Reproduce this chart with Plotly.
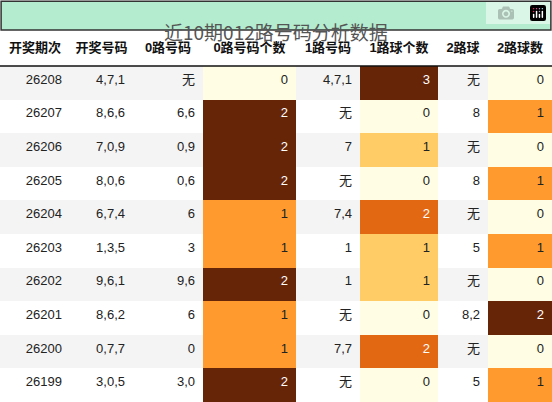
import plotly.graph_objects as go

headers = ["开奖期次","开奖号码","0路号码","0路号码个数","1路号码","1路球个数","2路球","2路球数"]
periods = ["26208","26207","26206","26205","26204","26203","26202","26201","26200","26199"]
draws = ["4,7,1","8,6,6","7,0,9","8,0,6","6,7,4","1,3,5","9,6,1","8,6,2","0,7,7","3,0,5"]
road0 = ["无","6,6","0,9","0,6","6","3","9,6","6","0","3,0"]
road0_cnt = [0,2,2,2,1,1,2,1,1,2]
road1 = ["4,7,1","无","7","无","7,4","1","1","无","7,7","无"]
road1_cnt = [3,0,1,0,2,1,1,0,2,0]
road2 = ["无","8","无","8","无","5","无","8,2","无","5"]
road2_cnt = [0,1,0,1,0,1,0,2,0,1]

BROWN="#662507"; ORANGE="#ff9a2e"; LIGHT="#fffee4"; GOLD="#ffcc66"; DORANGE="#e36812"
map_a = {0:LIGHT,1:ORANGE,2:BROWN}
map_b = {0:LIGHT,1:GOLD,2:DORANGE,3:BROWN}
base = ["#f4f4f4" if i%2==0 else "#ffffff" for i in range(len(periods))]

fills = [base, base, base, [map_a[v] for v in road0_cnt], base,
         [map_b[v] for v in road1_cnt], base, [map_a[v] for v in road2_cnt]]
def tc(cols, dark):
    return ["#ffffff" if c in dark else "#222222" for c in cols]
fcols = ["#222222"]*3 + [tc(fills[3],[BROWN])] + ["#222222"] + [tc(fills[5],[BROWN,DORANGE])] + ["#222222"] + [tc(fills[7],[BROWN])]
FONT = "Liberation Sans, Noto Sans CJK SC"

fig = go.Figure(go.Table(
    domain=dict(x=[0,1], y=[0, 370/402]),
    columnwidth=[70,63,70,93,64,78,50,64],
    header=dict(values=["<b>%s</b>"%h for h in headers], fill_color="white",
                line=dict(width=0), align="center", height=34,
                font=dict(family=FONT, size=13, color="#111")),
    cells=dict(values=[periods, draws, road0, road0_cnt, road1, road1_cnt, road2, road2_cnt],
               fill_color=fills, line=dict(width=0), align="right", height=33.6,
               font=dict(family=FONT, size=13, color=fcols)),
))
fig.add_shape(type="rect", xref="paper", yref="paper", x0=0.002, x1=0.998, y0=372/402, y1=0.997,
              fillcolor="#b3ecce", line=dict(color="#333", width=1.5))
fig.add_shape(type="line", xref="paper", yref="paper", x0=0, x1=1, y0=336/402, y1=336/402,
              line=dict(color="#111", width=1.5))
fig.add_annotation(text="近10期012路号码分析数据", xref="paper", yref="paper", x=0.5, y=386/402,
                   showarrow=False, font=dict(family="Noto Sans CJK SC", size=19, color="#555"))
fig.update_layout(width=552, height=402, margin=dict(l=0,r=0,t=0,b=0), paper_bgcolor="white")
fig.write_html("out.html", post_script="document.body.style.margin='0';document.body.style.overflow='hidden';")
